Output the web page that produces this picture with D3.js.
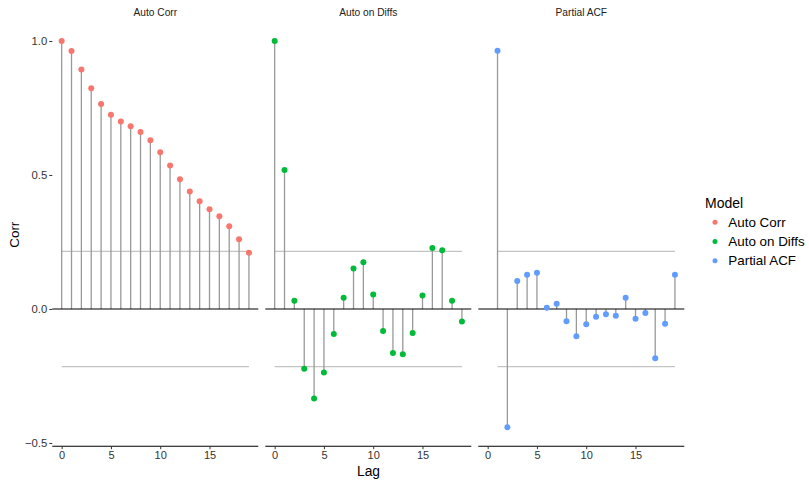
<!DOCTYPE html>
<html><head><meta charset="utf-8">
<script src="https://cdn.jsdelivr.net/npm/d3@7"></script>
<style>body{margin:0;background:#fff;font-family:"Liberation Sans",Arial,sans-serif;}</style>
</head><body><svg id="c" width="809" height="481"></svg>
<script>
const panels = ["Auto Corr", "Auto on Diffs", "Partial ACF"];
const colors = ["#F8766D", "#00BA38", "#619CFF"];
const lagsAcf = [0,1,2,3,4,5,6,7,8,9,10,11,12,13,14,15,16,17,18,19];
const acfVals = [1.0,0.963,0.894,0.824,0.765,0.725,0.700,0.682,0.660,0.630,0.585,0.535,0.484,0.438,0.402,0.372,0.346,0.309,0.260,0.210];
const lagsDiff = [0,1,2,3,4,5,6,7,8,9,10,11,12,13,14,15,16,17,18,19];
const diffVals = [1.0,0.519,0.031,-0.223,-0.334,-0.237,-0.093,0.042,0.151,0.174,0.054,-0.082,-0.164,-0.169,-0.090,0.050,0.228,0.219,0.031,-0.047];
const lagsPacf = [1,2,3,4,5,6,7,8,9,10,11,12,13,14,15,16,17,18,19];
const pacfVals = [0.964,-0.441,0.104,0.128,0.135,0.005,0.020,-0.046,-0.102,-0.057,-0.029,-0.020,-0.025,0.042,-0.036,-0.015,-0.184,-0.055,0.128];
const confLimit = 0.215;
const yTicks = [-0.5, 0, 0.5, 1.0];
const xTicks = [0, 5, 10, 15];

const series = [
  {name: panels[0], lags: lagsAcf, vals: acfVals},
  {name: panels[1], lags: lagsDiff, vals: diffVals},
  {name: panels[2], lags: lagsPacf, vals: pacfVals}
];

const svg = d3.select("#c");
const FONT = "Liberation Sans, Arial, sans-serif";
const panelW = 206, panelLefts = [52.3, 265.3, 478.3];
const y = d3.scaleLinear().domain([-0.512, 1.072]).range([446.2, 21.7]);
const fmt = v => v === 0 ? "0.0" : (v < 0 ? "\u2212" : "") + Math.abs(v).toFixed(1);

series.forEach((s, i) => {
  const x = d3.scaleLinear().domain([-0.95, 19.95]).range([panelLefts[i], panelLefts[i] + panelW]);
  const g = svg.append("g");
  // strip title
  g.append("text").attr("x", panelLefts[i] + panelW / 2).attr("y", 16.3)
    .attr("text-anchor", "middle").attr("font-size", 10.2).attr("fill", "#222").text(s.name);
  // confidence bands
  const lx0 = x(d3.min(s.lags)), lx1 = x(d3.max(s.lags));
  [confLimit, -confLimit].forEach(c => {
    g.append("line").attr("x1", lx0).attr("x2", lx1).attr("y1", y(c)).attr("y2", y(c))
      .attr("stroke", "#c4c4c4").attr("stroke-width", 1.2);
  });
  // segments
  g.selectAll(".seg").data(s.lags).enter().append("line")
    .attr("x1", d => x(d)).attr("x2", d => x(d))
    .attr("y1", y(0)).attr("y2", (d, k) => y(s.vals[k]))
    .attr("stroke", "#999").attr("stroke-width", 1.3);
  // zero line
  g.append("line").attr("x1", panelLefts[i]).attr("x2", panelLefts[i] + panelW)
    .attr("y1", y(0)).attr("y2", y(0)).attr("stroke", "#000").attr("stroke-width", 1.1);
  // points
  g.selectAll(".pt").data(s.lags).enter().append("circle")
    .attr("cx", d => x(d)).attr("cy", (d, k) => y(s.vals[k])).attr("r", 3)
    .attr("fill", colors[i]);
  // x axis
  const ax = g.append("g").attr("transform", `translate(0,${y.range()[0]})`)
    .call(d3.axisBottom(x).tickValues(xTicks).tickSize(3).tickPadding(2).tickFormat(d3.format("d")));
  ax.select(".domain").attr("d", `M${panelLefts[i]},0H${panelLefts[i] + panelW}`).attr("stroke", "#000").attr("stroke-width", 1.1);
  ax.selectAll(".tick line").attr("stroke", "#333");
  ax.selectAll(".tick text").attr("font-size", 11).attr("fill", "#333").attr("font-family", FONT);
});

// y axis
const ay = svg.append("g").attr("transform", `translate(${panelLefts[0]},0)`)
  .call(d3.axisLeft(y).tickValues(yTicks).tickSize(3).tickPadding(2).tickFormat(fmt));
ay.select(".domain").remove();
ay.selectAll(".tick line").attr("stroke", "#333");
ay.selectAll(".tick text").attr("font-size", 11.3).attr("fill", "#333").attr("font-family", FONT);

// axis titles
svg.append("text").attr("x", 368.5).attr("y", 475.5).attr("text-anchor", "middle").attr("font-size", 13.8).attr("fill", "#000").text("Lag");
svg.append("text").attr("transform", "translate(18.5,234.7) rotate(-90)").attr("text-anchor", "middle").attr("font-size", 13.4).attr("fill", "#000").text("Corr");

// legend
const lg = svg.append("g");
lg.append("text").attr("x", 705).attr("y", 207.5).attr("font-size", 14).attr("fill", "#000").text("Model");
panels.forEach((p, i) => {
  const cy = 222.3 + i * 19.2;
  lg.append("circle").attr("cx", 715).attr("cy", cy).attr("r", 2.5).attr("fill", colors[i]);
  lg.append("text").attr("x", 728.3).attr("y", cy + 4.6).attr("font-size", 13.4).attr("fill", "#000").text(p);
});
</script></body></html>
